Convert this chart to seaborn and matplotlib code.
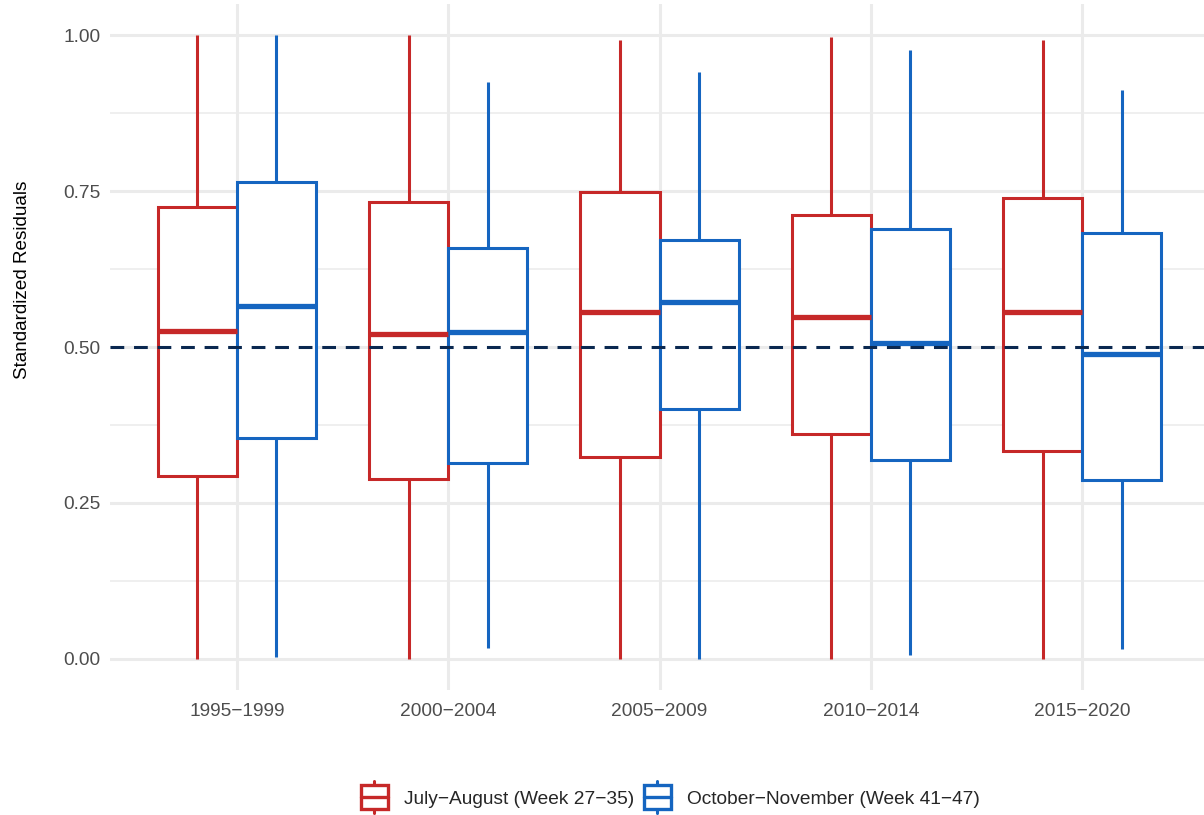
import numpy as np
import pandas as pd
import seaborn as sns
import matplotlib.pyplot as plt
from matplotlib.legend_handler import HandlerBase
from matplotlib.patches import Rectangle
from matplotlib.lines import Line2D
from matplotlib.ticker import MultipleLocator, FixedLocator

# Five-number summaries (min, Q1, median, Q3, max) for each period
periods = ["1995\u22121999", "2000\u22122004", "2005\u22122009", "2010\u22122014", "2015\u22122020"]
seasons = ["July\u2212August (Week 27\u221235)", "October\u2212November (Week 41\u221247)"]

summer_min = [0.000, 0.000, 0.000, 0.000, 0.000]
summer_q1 = [0.293, 0.288, 0.324, 0.361, 0.333]
summer_med = [0.526, 0.521, 0.556, 0.548, 0.556]
summer_q3 = [0.724, 0.732, 0.748, 0.712, 0.739]
summer_max = [1.000, 1.000, 0.992, 0.997, 0.992]

autumn_min = [0.003, 0.018, 0.000, 0.006, 0.016]
autumn_q1 = [0.354, 0.314, 0.401, 0.319, 0.287]
autumn_med = [0.566, 0.524, 0.572, 0.506, 0.489]
autumn_q3 = [0.764, 0.659, 0.671, 0.689, 0.683]
autumn_max = [1.000, 0.925, 0.941, 0.976, 0.912]

reference_level = 0.5

colors = ["#C62828", "#1565C0"]
dash_color = "#0A2850"
grid_color = "#EBEBEB"
text_gray = "#4D4D4D"


def long_frame(season, mins, q1s, meds, q3s, maxs):
    rows = []
    for p, a, b, c, d, e in zip(periods, mins, q1s, meds, q3s, maxs):
        for v in (a, b, c, d, e):
            rows.append({"period": p, "season": season, "value": v})
    return pd.DataFrame(rows)


df = pd.concat([
    long_frame(seasons[0], summer_min, summer_q1, summer_med, summer_q3, summer_max),
    long_frame(seasons[1], autumn_min, autumn_q1, autumn_med, autumn_q3, autumn_max),
], ignore_index=True)

sns.set_theme(style="white")
plt.rcParams["font.family"] = ["Liberation Sans", "DejaVu Sans"]

fig = plt.figure(figsize=(12.04, 8.15), dpi=100)
ax = fig.add_axes([110 / 1204, 1 - 690 / 815, 1099 / 1204, 686 / 815])

lw_box = 2.2
lw_med = 3.8
for season, col in zip(seasons, colors):
    sns.boxplot(
        data=df[df["season"] == season], x="period", y="value",
        hue="season", hue_order=seasons, order=periods,
        palette={s: "white" for s in seasons}, linecolor=col,
        linewidth=lw_box, width=0.75, gap=0, dodge=True,
        whis=(0, 100), showcaps=False, showfliers=False,
        medianprops={"linewidth": lw_med, "solid_capstyle": "butt"},
        whiskerprops={"linewidth": lw_box},
        boxprops={"joinstyle": "miter"},
        legend=False, ax=ax, zorder=3,
    )

ax.axhline(reference_level, color=dash_color, linewidth=2.2,
           linestyle=(0, (4.5, 3.2)), zorder=5)

ax.set_xlim(-0.6, len(periods) - 0.4)
ax.set_ylim(-0.05, 1.05)
ax.yaxis.set_major_locator(MultipleLocator(0.25))
ax.yaxis.set_minor_locator(FixedLocator([0.125, 0.375, 0.625, 0.875]))
ax.yaxis.set_major_formatter(plt.FuncFormatter(lambda v, _: f"{v:.2f}"))

ax.grid(True, which="major", axis="both", color=grid_color, linewidth=2.2, zorder=0)
ax.grid(True, which="minor", axis="y", color=grid_color, linewidth=1.1, zorder=0)
ax.set_axisbelow(True)
for s in ax.spines.values():
    s.set_visible(False)
ax.tick_params(axis="both", which="both", length=0, labelsize=13.8, labelcolor=text_gray)
ax.tick_params(axis="x", pad=9)
ax.tick_params(axis="y", pad=7)
ax.set_xlabel("")
ax.set_ylabel("Standardized Residuals", fontsize=13.6, color="black")
ax.yaxis.set_label_coords(-79 / 1099, (690 - 280) / 686)


class BoxKeyHandler(HandlerBase):
    def __init__(self, color):
        super().__init__()
        self.color = color

    def create_artists(self, legend, orig_handle, xdescent, ydescent, width, height, fontsize, trans):
        cx = width / 2 - xdescent
        bw = width * 0.95
        bh = height * 1.75
        y0 = (height - bh) / 2 - ydescent
        ext = height * 0.3
        rect = Rectangle((cx - bw / 2, y0), bw, bh, facecolor="white",
                         edgecolor=self.color, linewidth=2.4, transform=trans)
        top = Line2D([cx, cx], [y0 + bh, y0 + bh + ext], color=self.color,
                     linewidth=2.2, transform=trans)
        bot = Line2D([cx, cx], [y0 - ext, y0], color=self.color,
                     linewidth=2.2, transform=trans)
        mid = Line2D([cx - bw / 2, cx + bw / 2], [y0 + bh / 2] * 2, color=self.color,
                     linewidth=2.4, transform=trans)
        return [top, bot, rect, mid]


handles = [Rectangle((0, 0), 1, 1) for _ in seasons]
fig.legend(handles, seasons, loc="center", bbox_to_anchor=(670 / 1204, 1 - 799 / 815),
           ncol=2, frameon=False, fontsize=13.8, handlelength=1.5, handletextpad=0.8,
           columnspacing=0.45,
           handler_map={h: BoxKeyHandler(c) for h, c in zip(handles, colors)})

fig.savefig("out.png", dpi=100, facecolor="white")
